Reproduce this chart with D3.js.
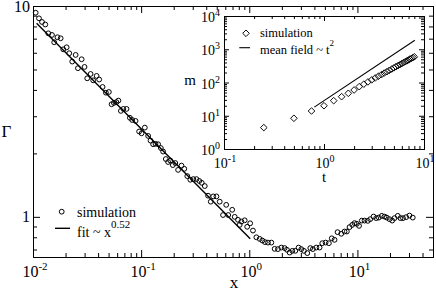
<!DOCTYPE html>
<html>
<head>
<meta charset="utf-8">
<script src="https://cdn.jsdelivr.net/npm/d3@7"></script>
<style>
  body { margin: 0; background: #fff; }
  svg { display: block; }
</style>
</head>
<body>
<svg width="436" height="291"></svg>
<script>
// main panel: Gamma(x), simulation points + power-law fit
const xValues = [
  0.01059, 0.01136, 0.01211, 0.01299, 0.01385, 0.01498, 0.01570, 0.01683, 0.01802, 0.01905,
  0.02047, 0.02163, 0.02306, 0.02479, 0.02603, 0.02817, 0.02996, 0.03172, 0.03409, 0.03603,
  0.03875, 0.04094, 0.04400, 0.04721, 0.05030, 0.05328, 0.05598, 0.05902, 0.06159, 0.06495,
  0.06849, 0.07330, 0.07866, 0.08260, 0.08877, 0.09585, 0.1009, 0.1082, 0.1161, 0.1221,
  0.1291, 0.1358, 0.1435, 0.1521, 0.1597, 0.1691, 0.1776, 0.1861, 0.1963, 0.2070,
  0.2197, 0.2360, 0.2506, 0.2672, 0.2848, 0.3035, 0.3248, 0.3448, 0.3636, 0.3876,
  0.4157, 0.4402, 0.4642, 0.4969, 0.5330, 0.5718, 0.6119, 0.6386, 0.6955, 0.7334,
  0.7864, 0.8153, 0.8454, 0.9071, 0.9565, 1.0195, 1.0819, 1.163, 1.248, 1.321,
  1.396, 1.488, 1.600, 1.716, 1.841, 1.979, 2.123, 2.229, 2.361, 2.500,
  2.666, 2.859, 3.028, 3.200, 3.440, 3.667, 3.875, 4.165, 4.468, 4.732,
  5.077, 5.445, 5.791, 6.147, 6.552, 7.089, 7.603, 7.986, 8.457, 8.956,
  9.406, 9.876, 10.35, 10.98, 11.63, 12.48, 13.14, 14.09, 14.92, 15.77,
  16.81, 17.80, 18.69, 19.80, 20.97, 22.02, 23.62, 25.01, 26.38, 28.23,
  30.29, 32.49
];
const gammaValues = [
  9.29, 8.74, 8.40, 8.17, 7.42, 7.29, 6.73, 7.11, 7.03, 6.23,
  6.37, 5.97, 5.45, 5.86, 5.07, 5.59, 5.14, 4.54, 4.76, 4.44,
  4.66, 4.48, 4.13, 3.88, 3.91, 3.42, 3.47, 3.50, 3.56, 3.18,
  3.25, 3.25, 2.95, 2.88, 2.85, 2.54, 2.49, 2.65, 2.42, 2.30,
  2.21, 2.22, 2.21, 2.12, 2.04, 1.88, 1.82, 1.85, 1.76, 1.80,
  1.67, 1.75, 1.69, 1.56, 1.50, 1.51, 1.51, 1.48, 1.45, 1.40,
  1.26, 1.18, 1.25, 1.25, 1.18, 1.02, 1.14, 1.02, 1.08, 1.00,
  0.968, 0.916, 0.950, 0.963, 0.897, 0.932, 0.861, 0.800, 0.786, 0.772,
  0.759, 0.755, 0.755, 0.705, 0.703, 0.715, 0.711, 0.698, 0.677, 0.690,
  0.690, 0.715, 0.703, 0.690, 0.673, 0.711, 0.703, 0.715, 0.715, 0.750,
  0.755, 0.750, 0.791, 0.778, 0.846, 0.831, 0.852, 0.852, 0.894, 0.916,
  0.934, 0.927, 0.906, 0.960, 0.960, 0.957, 0.975, 1.003, 0.986, 0.992,
  1.011, 1.003, 0.992, 0.975, 0.960, 0.986, 1.011, 0.986, 0.986, 0.997,
  1.014, 0.992
];
const fitX = [0.0108, 1.02];
const fitGamma = [8.28, 0.787];

const mainXTicks = [0.01, 0.1, 1, 10];
const mainXExp = ["-2", "-1", "0", "1"];
const mainYTicks = [1, 10];
const mainYLabels = ["1", "10"];

// inset: m(t)
const tValues = [
  0.25, 0.5, 0.75, 1, 1.25, 1.5, 1.75, 2, 2.25, 2.5, 2.75, 3, 3.25, 3.5, 3.75, 4,
  4.25, 4.5, 4.75, 5, 5.25, 5.5, 5.75, 6, 6.25, 6.5, 6.75, 7, 7.25, 7.5, 7.75, 8
];
const mValues = [
  4.4, 8.4, 13.9, 20, 28.4, 37.4, 47.3, 59.5, 75, 89, 104, 120, 137, 154, 172, 192,
  211, 232, 254, 276, 298, 322, 346, 371, 397, 423, 450, 477, 505, 534, 563, 593
];
const meanFieldT = [0.8, 8.1];
const meanFieldM = [18.2, 1863];

const insetXTicks = [0.1, 1, 10];
const insetXExp = ["-1", "0", "1"];
const insetYTicks = [1, 10, 100, 1000, 10000];
const insetYExp = ["0", "1", "2", "3", "4"];

const FONT = "Liberation Serif";

const svg = d3.select("svg");

const x = d3.scaleLog().domain([0.01, 50]).range([33, 433]);
const y = d3.scaleLog().domain([0.645, 10]).range([257, 6]);
const xi = d3.scaleLog().domain([0.1, 10]).range([224, 424]);
const yi = d3.scaleLog().domain([1, 10000]).range([149, 16]);

const isPow10 = v => Math.abs(Math.log10(v) - Math.round(Math.log10(v))) < 1e-9;

function txt(g, px, py, size, anchor) {
  return g.append("text").attr("x", px).attr("y", py)
    .attr("text-anchor", anchor || "start")
    .attr("font-family", FONT).attr("font-size", size).attr("fill", "#000");
}

// closed frame, inward major + minor ticks on all four sides
function frame(g, sx, sy, major, minor, xMajor, yMajor) {
  const [x0, x1] = sx.range();
  const [y0, y1] = sy.range();
  const xMinor = sx.ticks().filter(v => !isPow10(v));
  const yMinor = sy.ticks().filter(v => !isPow10(v));
  const sides = [
    [d3.axisBottom(sx), xMajor, xMinor, `translate(0,${y0})`],
    [d3.axisTop(sx), xMajor, xMinor, `translate(0,${y1})`],
    [d3.axisLeft(sy), yMajor, yMinor, `translate(${x0},0)`],
    [d3.axisRight(sy), yMajor, yMinor, `translate(${x1},0)`]
  ];
  sides.forEach(([ax, maj, min, tr]) => {
    g.append("g").attr("transform", tr)
      .call(ax.tickValues(min).tickSizeInner(-minor).tickSizeOuter(0).tickFormat(""));
    g.append("g").attr("transform", tr)
      .call(ax.tickValues(maj).tickSizeInner(-major).tickSizeOuter(0).tickFormat(""));
  });
  g.selectAll(".domain, .tick line").attr("stroke", "#000").attr("stroke-width", 1);
}

function powLabel(g, px, py, exp, size, supSize, supDy, anchor) {
  const t = txt(g, px, py, size, anchor);
  t.append("tspan").text("10");
  t.append("tspan").attr("dy", supDy).attr("font-size", supSize).text(exp);
}

// ---- main panel
const main = svg.append("g");
frame(main, x, y, 7, 4, mainXTicks, mainYTicks);

mainXTicks.forEach((v, i) => powLabel(main, x(v) + 2, 277, mainXExp[i], 16, 11, -7, "middle"));
mainYTicks.forEach((v, i) => {
  txt(main, 30, y(v) + 5.5, 16, "end").text(mainYLabels[i]);
});

txt(main, 6.5, 136.5, 17, "middle").text("Γ");
txt(main, 234, 288, 17, "middle").text("x");

main.append("path")
  .datum(fitX.map((v, i) => [v, fitGamma[i]]))
  .attr("fill", "none").attr("stroke", "#000").attr("stroke-width", 1.4)
  .attr("d", d3.line().x(d => x(d[0])).y(d => y(d[1])));

main.selectAll("circle.sim")
  .data(xValues.map((v, i) => [v, gammaValues[i]]))
  .enter().append("circle")
  .attr("class", "sim")
  .attr("cx", d => x(d[0])).attr("cy", d => y(d[1])).attr("r", 2.4)
  .attr("fill", "none").attr("stroke", "#000").attr("stroke-width", 1);

// main legend
main.append("circle").attr("cx", 61.7).attr("cy", 211.7).attr("r", 2.4)
  .attr("fill", "none").attr("stroke", "#000").attr("stroke-width", 1);
txt(main, 77, 217.3, 14).text("simulation");
main.append("line").attr("x1", 55).attr("x2", 70).attr("y1", 228.3).attr("y2", 228.3)
  .attr("stroke", "#000").attr("stroke-width", 1.4);
const fitLabel = txt(main, 77, 236.7, 14);
fitLabel.append("tspan").text("fit ~ x");
fitLabel.append("tspan").attr("dy", -8.5).attr("font-size", 11).text("0.52");

// ---- inset
const inset = svg.append("g");
inset.append("rect").attr("x", 224).attr("y", 16).attr("width", 200).attr("height", 133)
  .attr("fill", "#fff");
frame(inset, xi, yi, 5, 3, insetXTicks, insetYTicks);

insetXTicks.forEach((v, i) => powLabel(inset, xi(v) + 1, 167.5, insetXExp[i], 14, 10, -6, "middle"));
insetYTicks.forEach((v, i) => powLabel(inset, 220, yi(v) + 6, insetYExp[i], 14, 10, -6, "end"));

txt(inset, 190, 85, 15, "middle").text("m");
txt(inset, 324, 181.5, 15, "middle").text("t");

inset.append("path")
  .datum(meanFieldT.map((v, i) => [v, meanFieldM[i]]))
  .attr("fill", "none").attr("stroke", "#000").attr("stroke-width", 1.1)
  .attr("d", d3.line().x(d => xi(d[0])).y(d => yi(d[1])));

const diamond = d3.symbol().type(d3.symbolSquare).size(22);
inset.selectAll("path.sim")
  .data(tValues.map((v, i) => [v, mValues[i]]))
  .enter().append("path")
  .attr("class", "sim")
  .attr("d", diamond)
  .attr("transform", d => `translate(${xi(d[0])},${yi(d[1])}) rotate(45)`)
  .attr("fill", "none").attr("stroke", "#000").attr("stroke-width", 0.9);

// inset legend
inset.append("path").attr("d", diamond)
  .attr("transform", "translate(246,33.3) rotate(45)")
  .attr("fill", "none").attr("stroke", "#000").attr("stroke-width", 0.9);
txt(inset, 260, 36.7, 12.5).text("simulation");
inset.append("line").attr("x1", 239.3).attr("x2", 250).attr("y1", 47.7).attr("y2", 47.7)
  .attr("stroke", "#000").attr("stroke-width", 1.1);
const mfLabel = txt(inset, 260, 53.5, 12.5);
mfLabel.append("tspan").text("mean field ~ t");
mfLabel.append("tspan").attr("dy", -8).attr("font-size", 9).text("2");
</script>
</body>
</html>
